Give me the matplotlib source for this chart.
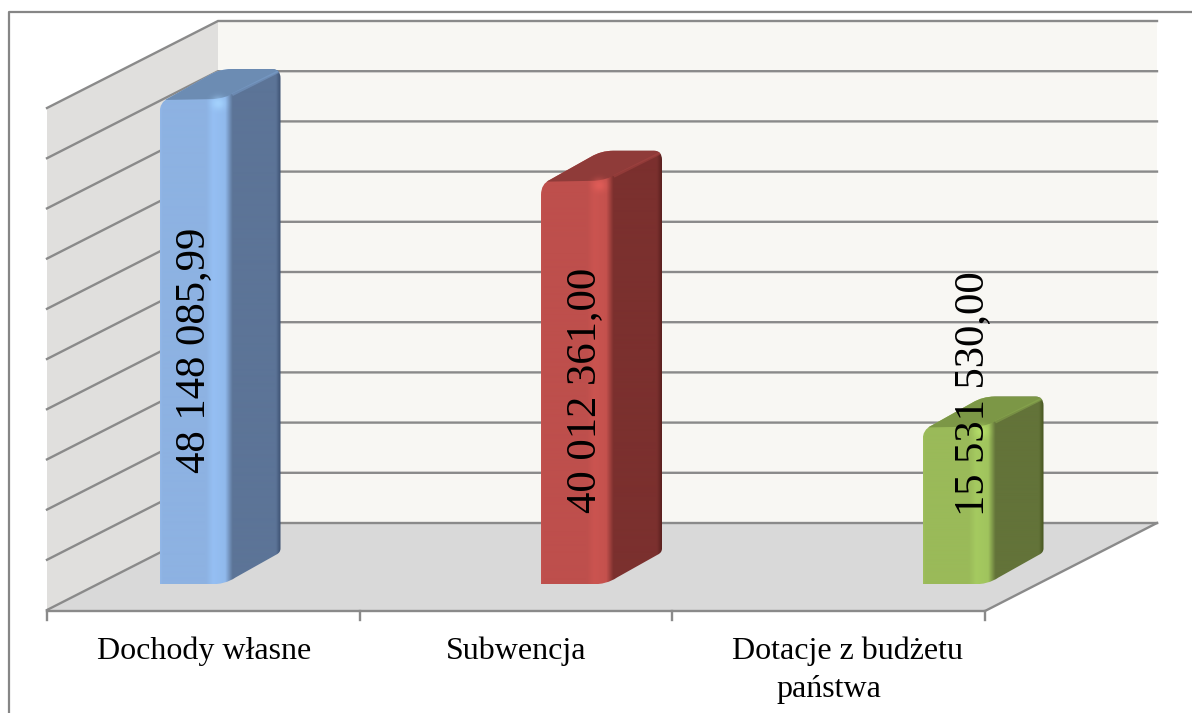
import numpy as np
import matplotlib
matplotlib.use("Agg")
import matplotlib.pyplot as plt
from matplotlib.colors import to_rgb
from matplotlib.patches import PathPatch, Polygon
from matplotlib.path import Path

plt.rcParams['font.family'] = ['Liberation Serif', 'DejaVu Serif']

# ---- Data ----
categories = ['Dochody własne', 'Subwencja', 'Dotacje z budżetu\npaństwa']
values = [48148085.99, 40012361.00, 15531530.00]
axis_max = 50_000_000
axis_step = 5_000_000

# (front, highlight, side, dark edge, top)
bar_colors = [('#8DB2E2', '#95BFF3', '#5C7497', '#3C5070', '#6C8CB3'),
              ('#BE4F4C', '#CB5450', '#7B302E', '#5A201F', '#8F3B39'),
              ('#9ABA59', '#A5CA60', '#637339', '#46541F', '#7C9746')]

# ---- Layout of the fake 3D box, in image pixels ----
W, H = 1192, 713
FRONT_LEFT, FRONT_RIGHT = 47, 985
BACK_LEFT, BACK_RIGHT = 218, 1157
FRONT_FLOOR, BACK_FLOOR = 611, 523
AXIS_PX = 502          # pixels for the whole value axis
BAR_LEFT, BAR_PITCH = 159.5, 381.5
BAR_WIDTH = 121
BAR_BASE = 584.5
DEPTH_Y = 32
GRID = '#8A8A8A'

label_pos = [(194, 350), (585, 390), (973, 394)]
cat_pos = [[(204, 651)], [(516, 651)], [(848, 651), (829, 690)]]


def val_px(v):
    return v / axis_max * AXIS_PX


def silhouette(x0, yt):
    r = x0 + BAR_WIDTH
    verts = [(x0, BAR_BASE), (x0, yt + 12), (x0, yt + 1), (x0 + 9, yt - 3),
             (x0 + 50, yt - 26), (x0 + 60, yt - DEPTH_Y), (x0 + 72, yt - DEPTH_Y),
             (r - 8, yt - DEPTH_Y), (r, yt - DEPTH_Y), (r, yt - DEPTH_Y + 9),
             (r, BAR_BASE - 36), (r, BAR_BASE - 32), (r - 4, BAR_BASE - 30),
             (x0 + 76, BAR_BASE - 7), (x0 + 66, BAR_BASE), (x0 + 50, BAR_BASE),
             (x0, BAR_BASE)]
    codes = [Path.MOVETO, Path.LINETO, Path.CURVE3, Path.CURVE3,
             Path.LINETO, Path.CURVE3, Path.CURVE3,
             Path.LINETO, Path.CURVE3, Path.CURVE3,
             Path.LINETO, Path.CURVE3, Path.CURVE3,
             Path.LINETO, Path.CURVE3, Path.CURVE3, Path.CLOSEPOLY]
    return Path(verts, codes)


fig = plt.figure(figsize=(W / 100, H / 100), dpi=100)
ax = fig.add_axes([0, 0, 1, 1])
ax.set_axis_off()

# outer frame: left and top only, running off the picture
ax.plot([9, 9, W + 5], [H + 5, 12, 12], color='#868686', lw=1.6, zorder=1)

# walls and floor
top_px = val_px(axis_max)
ax.add_patch(Polygon([(FRONT_LEFT, FRONT_FLOOR), (BACK_LEFT, BACK_FLOOR),
                      (BACK_LEFT, BACK_FLOOR - top_px), (FRONT_LEFT, FRONT_FLOOR - top_px)],
                     fc='#E0DFDD', ec='none', zorder=1))
ax.add_patch(Polygon([(BACK_LEFT, BACK_FLOOR), (BACK_RIGHT, BACK_FLOOR),
                      (BACK_RIGHT, BACK_FLOOR - top_px), (BACK_LEFT, BACK_FLOOR - top_px)],
                     fc='#F8F7F3', ec='none', zorder=1))
ax.add_patch(Polygon([(FRONT_LEFT, FRONT_FLOOR), (FRONT_RIGHT, FRONT_FLOOR),
                      (BACK_RIGHT, BACK_FLOOR), (BACK_LEFT, BACK_FLOOR)],
                     fc='#D9D9D9', ec='none', zorder=1))

# gridlines wrap around the left and back walls
for v in np.arange(0, axis_max + 1, axis_step):
    p = val_px(v)
    ax.plot([FRONT_LEFT, BACK_LEFT, BACK_RIGHT],
            [FRONT_FLOOR - 1 - p, BACK_FLOOR - p, BACK_FLOOR - p],
            color=GRID, lw=1.7, zorder=2, solid_joinstyle='miter')

# floor edges and category ticks
ax.plot([FRONT_LEFT, FRONT_RIGHT, BACK_RIGHT],
        [FRONT_FLOOR, FRONT_FLOOR, BACK_FLOOR], color=GRID, lw=1.7, zorder=2)
for tx in np.linspace(FRONT_LEFT, FRONT_RIGHT, len(categories) + 1):
    ax.plot([tx, tx], [FRONT_FLOOR, FRONT_FLOOR + 9], color=GRID, lw=1.7, zorder=2)

# bars
for i, (v, cols) in enumerate(zip(values, bar_colors)):
    x0 = BAR_LEFT + i * BAR_PITCH
    r = x0 + BAR_WIDTH
    yt = BAR_BASE - val_px(v)
    front, light, side, edge, top = [np.array(to_rgb(c)) for c in cols]

    outline = PathPatch(silhouette(x0, yt), fc='none', ec='none',
                        transform=ax.transData)
    ax.add_patch(outline)

    # horizontal shading across the front and side faces
    stops = [0, 0.02, 0.38, 0.44, 0.54, 0.60, 0.96, 1.0]
    ramp = [front * 1.03, front, front, light, light * 0.97, side, side, edge]
    xs = np.linspace(0, 1, BAR_WIDTH * 2)
    row = np.stack([np.interp(xs, stops, [c[k] for c in ramp]) for k in range(3)], axis=1)
    im = ax.imshow(np.clip(row[None, :, :], 0, 1), aspect='auto', zorder=3,
                   extent=(x0, r, BAR_BASE, yt - DEPTH_Y),
                   interpolation='bilinear')
    im.set_clip_path(outline)

    # top face, its front edge curves up into the ridge above the side face
    top_verts = [(x0 - 2, yt - 1), (x0 + 54, yt - 2), (x0 + 66, yt - 3), (x0 + 74, yt - 8),
                 (r + 2, yt - 31), (r + 2, yt - DEPTH_Y - 2), (x0 + 40, yt - DEPTH_Y - 2),
                 (x0 - 2, yt - 1)]
    top_codes = [Path.MOVETO, Path.LINETO, Path.CURVE3, Path.CURVE3,
                 Path.LINETO, Path.LINETO, Path.LINETO, Path.CLOSEPOLY]
    top_face = PathPatch(Path(top_verts, top_codes), fc=top, ec='none', zorder=4)
    ax.add_patch(top_face)
    top_face.set_clip_path(outline)
    ridge = ax.plot([x0 + 74, r - 3], [yt - 7, yt - 29],
                    color=top * 0.6 + light * 0.4, lw=2, alpha=0.5, zorder=4)[0]
    ridge.set_clip_path(outline)

    # soft lit spot where the front, top and side faces meet
    ny, nx = 30, 40
    gy, gx = np.mgrid[0:ny, 0:nx]
    glow = np.exp(-((gx - 20) ** 2 / 70 + (gy - 15) ** 2 / 60))
    rgba = np.zeros((ny, nx, 4))
    rgba[..., :3] = np.clip(light * 1.12, 0, 1)
    rgba[..., 3] = glow * 0.85
    hi = ax.imshow(rgba, aspect='auto', zorder=5, interpolation='bilinear',
                   extent=(x0 + 42, x0 + 74, yt + 14, yt - 10))
    hi.set_clip_path(outline)

# data labels
for v, (lx, ly) in zip(values, label_pos):
    txt = f'{v:,.2f}'.replace(',', ' ').replace('.', ',')
    ax.text(lx, ly, txt, rotation=90, ha='center', va='center', fontsize=30.7,
            color='black', zorder=6)

# category labels
for cat, spots in zip(categories, cat_pos):
    for line, (cx, cy) in zip(cat.split('\n'), spots):
        ax.text(cx, cy, line, ha='center', va='center', fontsize=23, color='black', zorder=6)

ax.set_xlim(0, W)
ax.set_ylim(H, 0)
fig.savefig('out.png', dpi=100, facecolor='white')
